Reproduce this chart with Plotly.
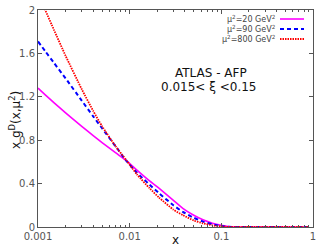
import plotly.graph_objects as go

x_vals = [0.001, 0.0012, 0.0015, 0.002, 0.003, 0.004, 0.005, 0.007, 0.0092, 0.012,
          0.0165, 0.021, 0.03, 0.038, 0.05, 0.063, 0.08, 0.1, 0.12, 0.15, 0.2, 0.3, 0.5, 0.9]
g_mu20 = [1.28, 1.218, 1.144, 1.052, 0.927, 0.842, 0.778, 0.685, 0.611, 0.525,
          0.425, 0.355, 0.245, 0.172, 0.108, 0.067, 0.035, 0.015, 0.004, 0, 0, 0, 0, 0]
g_mu90 = [1.71, 1.62, 1.51, 1.37, 1.165, 1.02, 0.91, 0.745, 0.61, 0.50,
          0.39, 0.31, 0.20, 0.14, 0.085, 0.05, 0.025, 0.01, 0.002, 0, 0, 0, 0, 0]
g_mu800 = [2.16, 2.0, 1.813, 1.578, 1.27, 1.07, 0.929, 0.746, 0.615, 0.485,
           0.357, 0.27, 0.16, 0.11, 0.06, 0.034, 0.015, 0.005, 0.001, 0, 0, 0, 0, 0]
legend_labels = ["μ<sup>2</sup>=20 GeV<sup>2</sup>", "μ<sup>2</sup>=90 GeV<sup>2</sup>",
                 "μ<sup>2</sup>=800 GeV<sup>2</sup>"]
x_tickvals = [0.001, 0.01, 0.1, 1]
x_ticktext = ["0.001", "0.01", "0.1", "1"]
y_tickvals = [0, 0.4, 0.8, 1.2, 1.6, 2]
y_ticktext = ["0", "0.4", "0.8", "1.2", "1.6", "2"]

styles = [dict(color="#ff00ff", width=1.6, dash="solid"),
          dict(color="#0000ff", width=2, dash="4px,3px"),
          dict(color="#ff0000", width=1.8, dash="1.5px,1px")]

fig = go.Figure()
for ys, st, name in zip([g_mu20, g_mu90, g_mu800], styles, legend_labels):
    fig.add_trace(go.Scatter(x=x_vals, y=ys, mode="lines",
                             line=dict(shape="spline", smoothing=0.5, **st),
                             name=name, showlegend=False, hoverinfo="skip"))

W, H = 329, 247
L, R, T, B = 38, 16, 10, 20
pw, ph = W - L - R, H - T - B
def px2paper_x(px):
    return (px - L) / pw
def py2paper_y(py):
    return (H - B - py) / ph

row_py = [19, 29, 39]
for i, (name, st) in enumerate(zip(legend_labels, styles)):
    fig.add_annotation(x=px2paper_x(277), y=py2paper_y(row_py[i]), xref="paper", yref="paper",
                       text=name, showarrow=False, xanchor="right", yanchor="middle",
                       font=dict(size=8, color="#444444", family="DejaVu Sans"))
    fig.add_shape(type="line", xref="paper", yref="paper",
                  x0=px2paper_x(280), x1=px2paper_x(304),
                  y0=py2paper_y(row_py[i]), y1=py2paper_y(row_py[i]),
                  line=dict(color=st["color"], width=st["width"], dash=st["dash"]))

fig.add_annotation(x=px2paper_x(211), y=py2paper_y(73), xref="paper", yref="paper",
                   text="ATLAS - AFP", showarrow=False, xanchor="center", yanchor="middle",
                   font=dict(size=12, color="#111111", family="DejaVu Sans"))
fig.add_annotation(x=px2paper_x(209), y=py2paper_y(87), xref="paper", yref="paper",
                   text="0.015&lt; ξ &lt;0.15", showarrow=False, xanchor="center", yanchor="middle",
                   font=dict(size=12, color="#111111", family="DejaVu Sans"))
# y-axis title
fig.add_annotation(x=px2paper_x(15), y=py2paper_y(120), xref="paper", yref="paper",
                   text="x g<sup>D</sup>(x,μ<sup>2</sup>)", textangle=-90, showarrow=False,
                   xanchor="center", yanchor="middle",
                   font=dict(size=12, color="#111111", family="DejaVu Sans"))

axis_common = dict(showline=True, linecolor="#555555", linewidth=1, mirror="ticks",
                   ticks="inside", tickcolor="#555555", ticklen=4, showgrid=False,
                   zeroline=False, automargin=False,
                   tickfont=dict(size=10, color="#555555", family="DejaVu Sans"))

fig.update_xaxes(type="log", range=[-3, 0], tickvals=x_tickvals, ticktext=x_ticktext,
                 minor=dict(ticks="inside", ticklen=2, tickcolor="#555555",
                            tickvals=[k * 10**e for e in (-3, -2, -1) for k in range(2, 10)]),
                 title=dict(text="x", font=dict(size=12, color="#111111", family="DejaVu Sans"),
                            standoff=2),
                 **axis_common)
fig.update_yaxes(range=[0, 2], tickvals=y_tickvals, ticktext=y_ticktext,
                 **axis_common)

fig.update_layout(width=W, height=H, margin=dict(l=L, r=R, t=T, b=B),
                  plot_bgcolor="white", paper_bgcolor="white",
                  font=dict(family="DejaVu Sans"), hovermode=False)

fig.write_html("out.html", config={"displayModeBar": False, "staticPlot": True},
               post_script="document.body.style.margin='0px';document.body.style.overflow='hidden';")
